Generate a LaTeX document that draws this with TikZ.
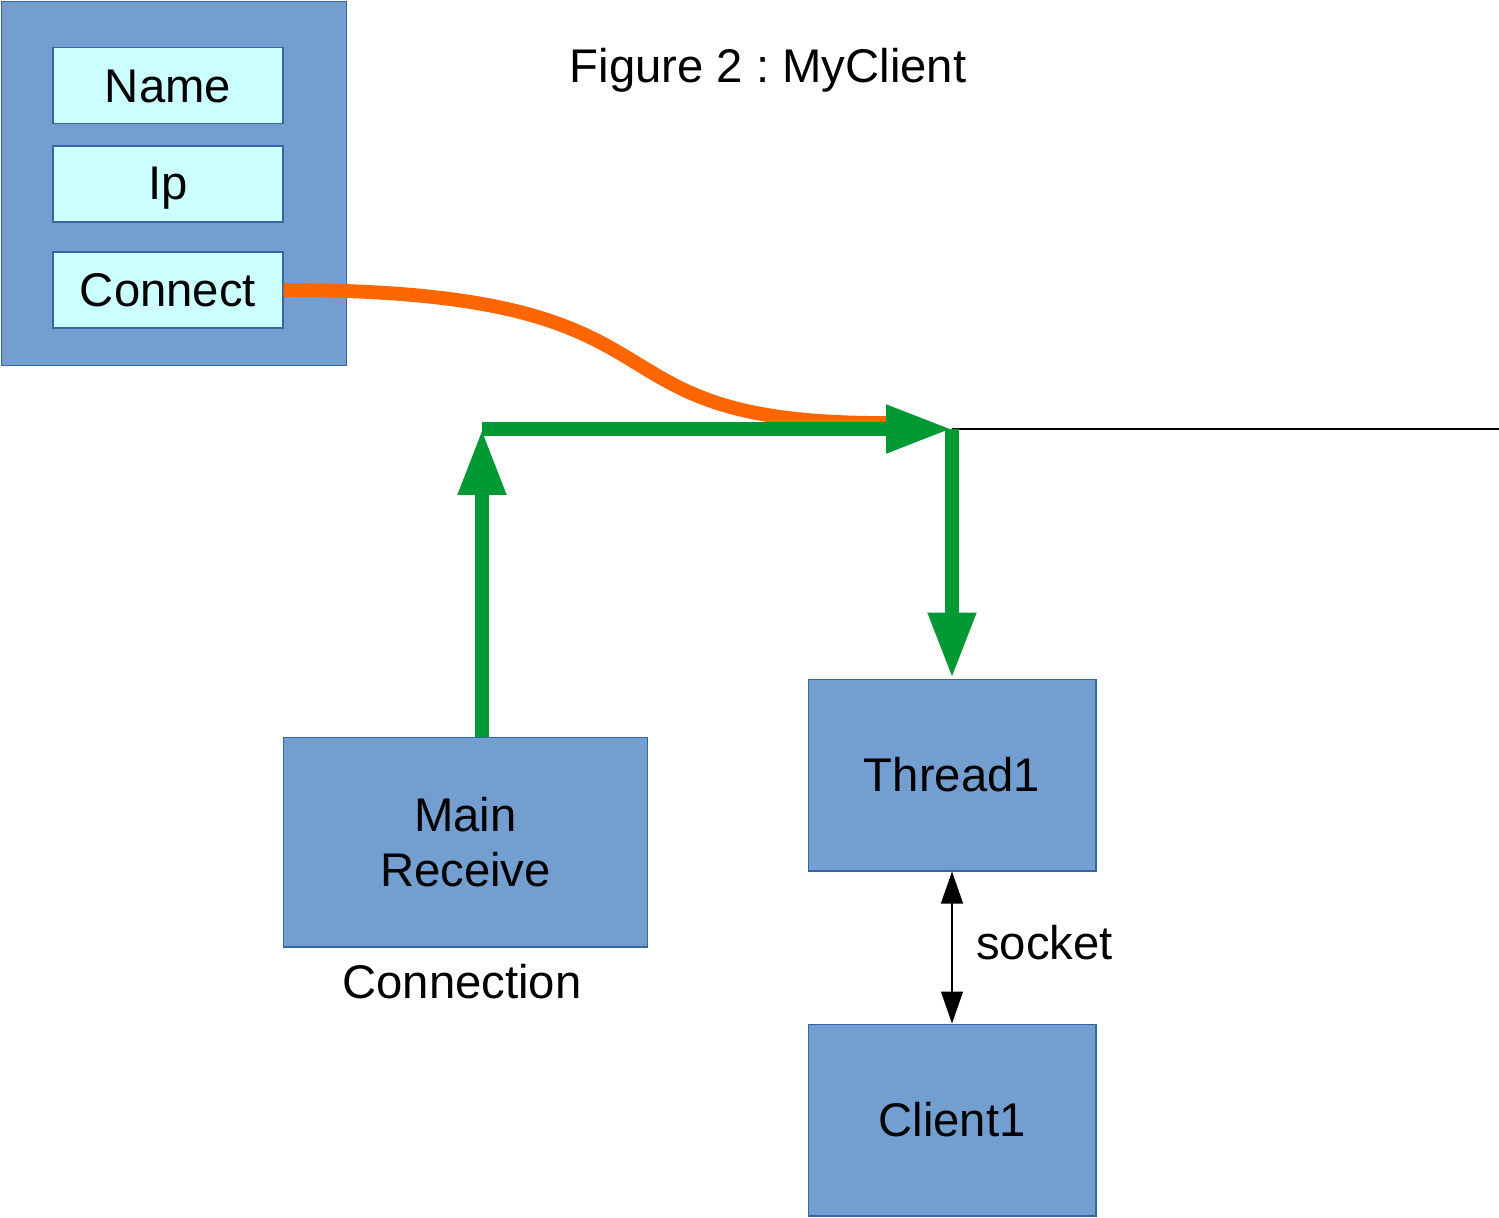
\documentclass[tikz,border=0pt]{standalone}
\usepackage{fontspec}
\setmainfont{Liberation Sans}
\usetikzlibrary{arrows.meta}
\frenchspacing
\definecolor{boxblue}{HTML}{729FCF}
\definecolor{boxedge}{HTML}{3465A4}
\definecolor{fieldcyan}{HTML}{CCFFFF}
\definecolor{flowgreen}{HTML}{009933}
\definecolor{flowor}{HTML}{FF6600}
\tikzset{
  bluebox/.style={draw=boxedge, fill=boxblue, line width=0.6pt, inner sep=0pt},
  fieldbox/.style={draw=boxedge, fill=fieldcyan, line width=0.6pt, inner sep=0pt,
    minimum width=4.6cm, minimum height=1.52cm},
  txt/.style={font=\fontsize{26.9}{31}\selectfont, text=black, inner sep=0pt, align=center},
  greenflow/.style={draw=flowgreen, line width=7.9pt,
    -{Triangle[length=1.32cm, width=0.9cm]}},
  orangeflow/.style={draw=flowor, line width=7.9pt},
  thinarrow/.style={draw=black, line width=0.6pt,
    {Triangle[length=0.64cm, width=0.44cm]}-{Triangle[length=0.64cm, width=0.44cm]}}
}
\begin{document}
\begin{tikzpicture}[x=0.02cm, y=-0.02cm]
\useasboundingbox (0,0) rectangle (1499,1218);
% outer panel
\node[bluebox, minimum width=6.92cm, minimum height=7.3cm] (panel) at (174,183.5) {};
\node[fieldbox] (name) at (168,85.5) {};
\node[txt] at (168,86) {Name};
\node[fieldbox] (ip) at (168,184) {};
\node[txt] at (168,188) {Ip};
\node[fieldbox] (connect) at (168,290) {};
\node[txt] at (connect) {Connect};
% title
\node[txt] (title) at (768,70) {Figure 2 : MyClient};
% lower boxes
\node[bluebox, minimum width=7.3cm, minimum height=4.2cm] (main) at (465.5,842) {};
\node[txt] at (main) {Main\\Receive};
\node[txt, anchor=north] (conn) at (462,964) {Connection};
\node[bluebox, minimum width=5.76cm, minimum height=3.84cm] (thread) at (952,775) {};
\node[txt] at (thread) {Thread1};
\node[bluebox, minimum width=5.76cm, minimum height=3.84cm] (client) at (952,1120) {};
\node[txt] at (client) {Client1};
% junctions
\coordinate (j1) at (482,429);
\coordinate (j2) at (952,429);
\coordinate (rend) at (1499,429);
% thin line to right
\draw[line width=0.6pt] (j2) -- (rend);
% orange curve
\draw[orangeflow] (connect.east) .. controls (720,290) and (560,425) .. (890,423);
% green flows
\draw[greenflow] (main.north -| j1) -- (j1);
\draw[greenflow] (j1) -- (j2);
\draw[greenflow] (j2) -- (thread.north);
% socket
\draw[thinarrow] (thread.south) -- (client.north);
\node[txt, anchor=west] (sock) at (976,943) {socket};
\end{tikzpicture}
\end{document}
